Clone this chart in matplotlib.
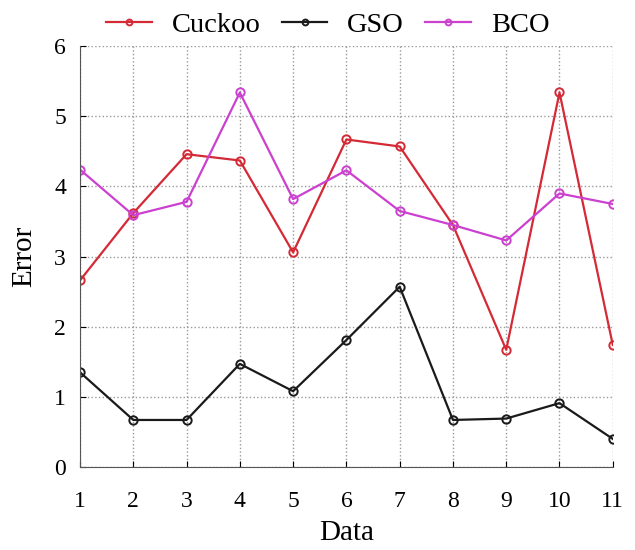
import matplotlib.pyplot as plt

# Datos
data_x = [1, 2, 3, 4, 5, 6, 7, 8, 9, 10, 11]
cuckoo = [2.66, 3.62, 4.46, 4.37, 3.06, 4.67, 4.57, 3.45, 1.67, 5.34, 1.74]
gso = [1.35, 0.67, 0.67, 1.47, 1.08, 1.81, 2.57, 0.67, 0.69, 0.91, 0.40]
bco = [4.24, 3.59, 3.78, 5.34, 3.82, 4.23, 3.65, 3.45, 3.23, 3.90, 3.75]

plt.rcParams['font.family'] = ['Liberation Serif', 'DejaVu Serif']

fig = plt.figure(figsize=(6.35, 5.5), dpi=100)
ax = fig.add_axes([0.126, 0.151, 0.839, 0.765])

estilo = dict(marker='o', mfc='none', ms=6, lw=1.6, mew=1.4)
ax.plot(data_x, cuckoo, color='#d42a36', label='Cuckoo', **estilo)
ax.plot(data_x, gso, color='#1a1a1a', label='GSO', **estilo)
ax.plot(data_x, bco, color='#cc40d0', label='BCO', **estilo)

ax.set_xlim(1, 11)
ax.set_ylim(0, 6)
ax.set_xticks(data_x)
ax.set_yticks(range(0, 7))
ax.tick_params(direction='in', labelsize=17, length=4)
ax.tick_params(axis='x', pad=17)
ax.tick_params(axis='y', pad=10)
ax.grid(True, linestyle=':', color='#999999', lw=1)
ax.spines['top'].set_visible(False)
ax.spines['right'].set_visible(False)
ax.spines['left'].set_color('#555555')
ax.spines['bottom'].set_color('#555555')
ax.set_xlabel('Data', fontsize=21, labelpad=6)
ax.set_ylabel('Error', fontsize=21, labelpad=12)

ax.legend(loc='center', bbox_to_anchor=(0.465, 1.05), ncol=3, frameon=False,
          fontsize=20.5, handlelength=1.6, columnspacing=0.75, handletextpad=0.7,
          markerscale=0.7, borderpad=0.2)

fig.savefig('out.png', dpi=100)
